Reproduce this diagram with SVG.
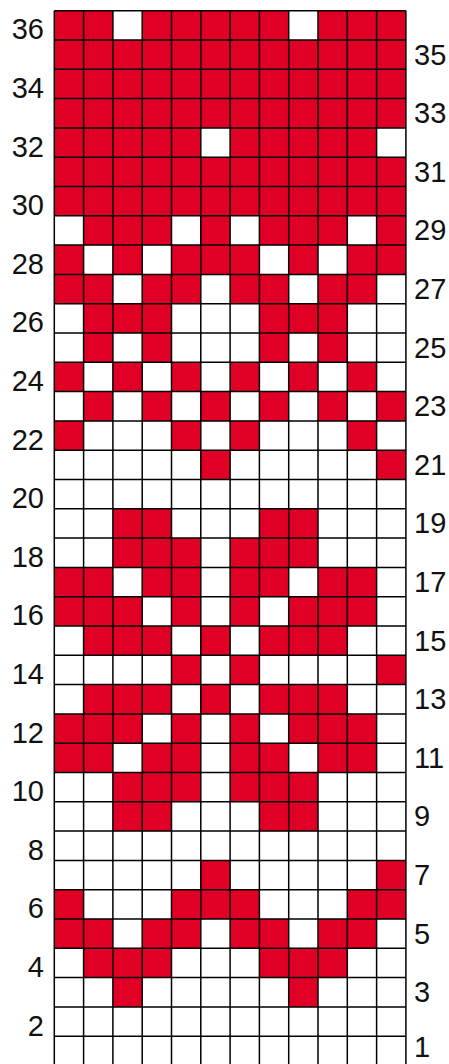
<svg xmlns="http://www.w3.org/2000/svg" width="449" height="1064" viewBox="0 0 449 1064">
<style>
.r{fill:#e00025}
.g{fill:none;stroke:#000;stroke-width:1.5}
.lbl{font-family:"Liberation Sans",Arial,sans-serif;font-size:29px;fill:#111}
.l{text-anchor:end}
.rt{text-anchor:start}
</style>
<rect width="449" height="1064" fill="#fff"/>
<g id="cells" transform="translate(54.3 10.7) scale(29.3)">
<g id="row36"><rect class="r" x="0" y="0" width="2" height="1"/><rect class="r" x="3" y="0" width="5" height="1"/><rect class="r" x="9" y="0" width="3" height="1"/></g>
<g id="rows35-33"><rect class="r" x="0" y="1" width="12" height="3"/></g>
<g id="row32"><rect class="r" x="0" y="4" width="5" height="1"/><rect class="r" x="6" y="4" width="5" height="1"/></g>
<g id="rows31-30"><rect class="r" x="0" y="5" width="12" height="2"/></g>
<g id="row29"><rect class="r" x="1" y="7" width="3" height="1"/><rect class="r" x="5" y="7" width="1" height="1"/><rect class="r" x="7" y="7" width="3" height="1"/><rect class="r" x="11" y="7" width="1" height="1"/></g>
<g id="row28"><rect class="r" x="0" y="8" width="1" height="1"/><rect class="r" x="2" y="8" width="1" height="1"/><rect class="r" x="4" y="8" width="3" height="1"/><rect class="r" x="8" y="8" width="1" height="1"/><rect class="r" x="10" y="8" width="2" height="1"/></g>
<g id="row27"><rect class="r" x="0" y="9" width="2" height="1"/><rect class="r" x="3" y="9" width="2" height="1"/><rect class="r" x="6" y="9" width="2" height="1"/><rect class="r" x="9" y="9" width="2" height="1"/></g>
<g id="row26"><rect class="r" x="1" y="10" width="3" height="1"/><rect class="r" x="7" y="10" width="3" height="1"/></g>
<g id="row25"><rect class="r" x="1" y="11" width="1" height="1"/><rect class="r" x="3" y="11" width="1" height="1"/><rect class="r" x="7" y="11" width="1" height="1"/><rect class="r" x="9" y="11" width="1" height="1"/></g>
<g id="row24"><rect class="r" x="0" y="12" width="1" height="1"/><rect class="r" x="2" y="12" width="1" height="1"/><rect class="r" x="4" y="12" width="1" height="1"/><rect class="r" x="6" y="12" width="1" height="1"/><rect class="r" x="8" y="12" width="1" height="1"/><rect class="r" x="10" y="12" width="1" height="1"/></g>
<g id="row23"><rect class="r" x="1" y="13" width="1" height="1"/><rect class="r" x="3" y="13" width="1" height="1"/><rect class="r" x="5" y="13" width="1" height="1"/><rect class="r" x="7" y="13" width="1" height="1"/><rect class="r" x="9" y="13" width="1" height="1"/><rect class="r" x="11" y="13" width="1" height="1"/></g>
<g id="row22"><rect class="r" x="0" y="14" width="1" height="1"/><rect class="r" x="4" y="14" width="1" height="1"/><rect class="r" x="6" y="14" width="1" height="1"/><rect class="r" x="10" y="14" width="1" height="1"/></g>
<g id="row21"><rect class="r" x="5" y="15" width="1" height="1"/><rect class="r" x="11" y="15" width="1" height="1"/></g>
<g id="row19"><rect class="r" x="2" y="17" width="2" height="1"/><rect class="r" x="7" y="17" width="2" height="1"/></g>
<g id="row18"><rect class="r" x="2" y="18" width="3" height="1"/><rect class="r" x="6" y="18" width="3" height="1"/></g>
<g id="row17"><rect class="r" x="0" y="19" width="2" height="1"/><rect class="r" x="3" y="19" width="2" height="1"/><rect class="r" x="6" y="19" width="2" height="1"/><rect class="r" x="9" y="19" width="2" height="1"/></g>
<g id="row16"><rect class="r" x="0" y="20" width="3" height="1"/><rect class="r" x="4" y="20" width="1" height="1"/><rect class="r" x="6" y="20" width="1" height="1"/><rect class="r" x="8" y="20" width="3" height="1"/></g>
<g id="row15"><rect class="r" x="1" y="21" width="3" height="1"/><rect class="r" x="5" y="21" width="1" height="1"/><rect class="r" x="7" y="21" width="3" height="1"/></g>
<g id="row14"><rect class="r" x="4" y="22" width="1" height="1"/><rect class="r" x="6" y="22" width="1" height="1"/><rect class="r" x="11" y="22" width="1" height="1"/></g>
<g id="row13"><rect class="r" x="1" y="23" width="3" height="1"/><rect class="r" x="5" y="23" width="1" height="1"/><rect class="r" x="7" y="23" width="3" height="1"/></g>
<g id="row12"><rect class="r" x="0" y="24" width="3" height="1"/><rect class="r" x="4" y="24" width="1" height="1"/><rect class="r" x="6" y="24" width="1" height="1"/><rect class="r" x="8" y="24" width="3" height="1"/></g>
<g id="row11"><rect class="r" x="0" y="25" width="2" height="1"/><rect class="r" x="3" y="25" width="2" height="1"/><rect class="r" x="6" y="25" width="2" height="1"/><rect class="r" x="9" y="25" width="2" height="1"/></g>
<g id="row10"><rect class="r" x="2" y="26" width="3" height="1"/><rect class="r" x="6" y="26" width="3" height="1"/></g>
<g id="row9"><rect class="r" x="2" y="27" width="2" height="1"/><rect class="r" x="7" y="27" width="2" height="1"/></g>
<g id="row7"><rect class="r" x="5" y="29" width="1" height="1"/><rect class="r" x="11" y="29" width="1" height="1"/></g>
<g id="row6"><rect class="r" x="0" y="30" width="1" height="1"/><rect class="r" x="4" y="30" width="3" height="1"/><rect class="r" x="10" y="30" width="2" height="1"/></g>
<g id="row5"><rect class="r" x="0" y="31" width="2" height="1"/><rect class="r" x="3" y="31" width="2" height="1"/><rect class="r" x="6" y="31" width="2" height="1"/><rect class="r" x="9" y="31" width="2" height="1"/></g>
<g id="row4"><rect class="r" x="1" y="32" width="3" height="1"/><rect class="r" x="7" y="32" width="3" height="1"/></g>
<g id="row3"><rect class="r" x="2" y="33" width="1" height="1"/><rect class="r" x="8" y="33" width="1" height="1"/></g>
</g>
<g id="grid">
<path class="g" d="M54.3 10.7V1066M83.6 10.7V1066M112.9 10.7V1066M142.2 10.7V1066M171.5 10.7V1066M200.8 10.7V1066M230.1 10.7V1066M259.4 10.7V1066M288.7 10.7V1066M318 10.7V1066M347.3 10.7V1066M376.6 10.7V1066M405.9 10.7V1066"/>
<path class="g" d="M54.3 10.7H405.9M54.3 40H405.9M54.3 69.3H405.9M54.3 98.6H405.9M54.3 127.9H405.9M54.3 157.2H405.9M54.3 186.5H405.9M54.3 215.8H405.9M54.3 245.1H405.9M54.3 274.4H405.9M54.3 303.7H405.9M54.3 333H405.9M54.3 362.3H405.9M54.3 391.6H405.9M54.3 420.9H405.9M54.3 450.2H405.9M54.3 479.5H405.9M54.3 508.8H405.9M54.3 538.1H405.9M54.3 567.4H405.9M54.3 596.7H405.9M54.3 626H405.9M54.3 655.3H405.9M54.3 684.6H405.9M54.3 713.9H405.9M54.3 743.2H405.9M54.3 772.5H405.9M54.3 801.8H405.9M54.3 831.1H405.9M54.3 860.4H405.9M54.3 889.7H405.9M54.3 919H405.9M54.3 948.3H405.9M54.3 977.6H405.9M54.3 1006.9H405.9M54.3 1036.2H405.9"/>
</g>
<g id="labels-left" class="lbl l">
<text x="44" y="39.35">36</text>
<text x="44" y="97.95">34</text>
<text x="44" y="156.55">32</text>
<text x="44" y="215.15">30</text>
<text x="44" y="273.75">28</text>
<text x="44" y="332.35">26</text>
<text x="44" y="390.95">24</text>
<text x="44" y="449.55">22</text>
<text x="44" y="508.15">20</text>
<text x="44" y="566.75">18</text>
<text x="44" y="625.35">16</text>
<text x="44" y="683.95">14</text>
<text x="44" y="742.55">12</text>
<text x="44" y="801.15">10</text>
<text x="44" y="859.75">8</text>
<text x="44" y="918.35">6</text>
<text x="44" y="976.95">4</text>
<text x="44" y="1035.55">2</text>
</g>
<g id="labels-right" class="lbl rt">
<text x="414" y="64.65">35</text>
<text x="414" y="123.25">33</text>
<text x="414" y="181.85">31</text>
<text x="414" y="240.45">29</text>
<text x="414" y="299.05">27</text>
<text x="414" y="357.65">25</text>
<text x="414" y="416.25">23</text>
<text x="414" y="474.85">21</text>
<text x="414" y="533.45">19</text>
<text x="414" y="592.05">17</text>
<text x="414" y="650.65">15</text>
<text x="414" y="709.25">13</text>
<text x="414" y="767.85">11</text>
<text x="414" y="826.45">9</text>
<text x="414" y="885.05">7</text>
<text x="414" y="943.65">5</text>
<text x="414" y="1002.25">3</text>
<text x="414" y="1057">1</text>
</g>
</svg>
